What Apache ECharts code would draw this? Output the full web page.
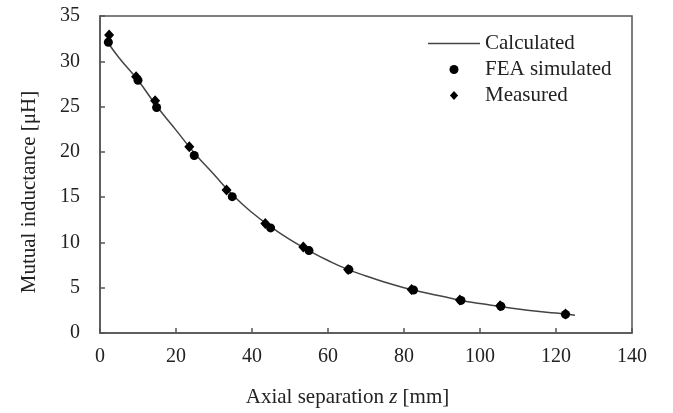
<!DOCTYPE html>
<html>
<head>
<meta charset="utf-8">
<script src="https://cdn.jsdelivr.net/npm/echarts@6/dist/echarts.min.js"></script>
<style>
  html, body { margin: 0; padding: 0; background: #fff; }
  #chart { width: 673px; height: 413px; }
</style>
</head>
<body>
<div id="chart"></div>
<script>
  // calculated curve
  var calcZ = [2, 5, 10, 15, 20, 25, 30, 35, 40, 45, 50, 55, 60, 65, 70, 75, 80, 85, 90, 95, 100, 105, 110, 115, 120, 125];
  var calcM = [32.1, 30.4, 27.9, 25.0, 22.4, 19.8, 17.5, 15.2, 13.3, 11.7, 10.3, 9.1, 8.0, 7.05, 6.3, 5.6, 5.0, 4.5, 4.05, 3.6, 3.25, 2.95, 2.65, 2.4, 2.2, 1.95];

  // FEA simulated points
  var feaZ = [2.2, 10, 14.9, 24.8, 34.8, 44.9, 55, 65.5, 82.5, 95, 105.5, 122.5];
  var feaM = [32.1, 27.9, 24.9, 19.6, 15.05, 11.6, 9.1, 7.0, 4.75, 3.6, 2.95, 2.05];

  // measured points
  var measZ = [2.4, 9.5, 14.5, 23.5, 33.3, 43.5, 53.5, 65.3, 82, 94.7, 105.3, 122.5];
  var measM = [32.9, 28.3, 25.65, 20.57, 15.8, 12.1, 9.5, 7.0, 4.8, 3.65, 3.0, 2.1];

  function pairs(xs, ys) {
    return xs.map(function (x, i) { return [x, ys[i]]; });
  }

  var font = 'Liberation Serif';
  var axisColor = '#555';
  var textColor = '#222';

  var chart = echarts.init(document.getElementById('chart'));
  chart.setOption({
    animation: false,
    textStyle: { fontFamily: font, color: textColor },
    grid: {
      left: 100, right: 41, top: 16, bottom: 80,
      show: true, borderColor: axisColor, borderWidth: 1.5,
      containLabel: false
    },
    legend: {
      orient: 'vertical',
      left: 423, top: 28,
      itemWidth: 52, itemHeight: 9, itemGap: 5,
      symbolKeepAspect: true,
      textStyle: { fontFamily: font, fontSize: 21, color: textColor },
      data: [
        { name: 'Calculated', icon: 'path://M0,0 L52,0 L52,1.6 L0,1.6 Z' },
        { name: 'FEA simulated', icon: 'circle' },
        { name: 'Measured', icon: 'path://M4.5,0 L9,5 L4.5,10 L0,5 Z' }
      ]
    },
    xAxis: {
      type: 'value', min: 0, max: 140, interval: 20,
      name: 'Axial separation {i|z} [mm]',
      nameLocation: 'middle', nameGap: 54,
      nameTextStyle: {
        fontFamily: font, fontSize: 21, color: textColor,
        padding: [0, 37, 0, 0],
        rich: { i: { fontFamily: font, fontSize: 21, fontStyle: 'italic', color: textColor } }
      },
      axisLine: { lineStyle: { color: axisColor, width: 1.5 } },
      axisTick: { inside: true, length: 5, lineStyle: { color: axisColor, width: 1.5 } },
      axisLabel: { margin: 14, fontSize: 20, fontFamily: font, color: textColor },
      splitLine: { show: false }
    },
    yAxis: {
      type: 'value', min: 0, max: 35, interval: 5,
      name: 'Mutual inductance [μH]',
      nameLocation: 'middle', nameGap: 60,
      nameTextStyle: { fontFamily: font, fontSize: 21, color: textColor, padding: [0, 35, 0, 0] },
      axisLine: { show: true, lineStyle: { color: axisColor, width: 1.5 } },
      axisTick: { show: true, inside: true, length: 5, lineStyle: { color: axisColor, width: 1.5 } },
      axisLabel: { margin: 20, fontSize: 20, fontFamily: font, color: textColor },
      splitLine: { show: false }
    },
    series: [
      {
        name: 'Calculated',
        type: 'line',
        smooth: true,
        symbol: 'none',
        lineStyle: { color: '#444', width: 1.5 },
        itemStyle: { color: '#444' },
        data: pairs(calcZ, calcM),
        z: 1
      },
      {
        name: 'FEA simulated',
        type: 'scatter',
        symbol: 'circle',
        symbolSize: 9,
        itemStyle: { color: '#000', opacity: 1 },
        data: pairs(feaZ, feaM),
        z: 2
      },
      {
        name: 'Measured',
        type: 'scatter',
        symbol: 'diamond',
        symbolSize: [10, 11],
        itemStyle: { color: '#000', opacity: 1 },
        data: pairs(measZ, measM),
        z: 3
      }
    ]
  });
</script>
</body>
</html>
